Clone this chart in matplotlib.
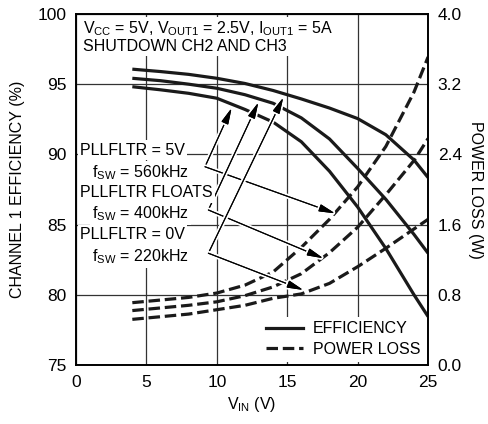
import matplotlib
matplotlib.use("Agg")
import matplotlib.pyplot as plt
import matplotlib.patheffects as pe
from matplotlib.lines import Line2D

# fonts: Arial-like sans to mimic the datasheet look
plt.rcParams["font.family"] = ["Liberation Sans", "DejaVu Sans"]
plt.rcParams["mathtext.fontset"] = "custom"
plt.rcParams["mathtext.rm"] = "Liberation Sans"
plt.rcParams["mathtext.default"] = "rm"

# input voltage (V)
vin = [4, 6, 8, 10, 12, 14, 16, 18, 20, 22, 24, 25]

# channel 1 efficiency (%)
eff_220k = [96.07, 95.9, 95.7, 95.42, 95.05, 94.55, 93.95, 93.3, 92.55, 91.4, 89.6, 88.35]
eff_400k = [95.42, 95.25, 95.0, 94.71, 94.25, 93.64, 92.6, 91.1, 89.0, 86.8, 84.3, 82.96]
eff_560k = [94.82, 94.6, 94.35, 94.0, 93.2, 92.3, 90.9, 88.8, 86.25, 83.3, 80.0, 78.45]

# power loss (W)
loss_560k = [0.71, 0.74, 0.77, 0.82, 0.91, 1.06, 1.34, 1.66, 2.03, 2.49, 3.11, 3.51]
loss_400k = [0.62, 0.65, 0.68, 0.72, 0.79, 0.89, 1.04, 1.28, 1.57, 1.94, 2.33, 2.58]
loss_220k = [0.52, 0.55, 0.58, 0.63, 0.68, 0.76, 0.81, 0.93, 1.12, 1.33, 1.55, 1.66]

x_ticks = [0, 5, 10, 15, 20, 25]
eff_ticks = [75, 80, 85, 90, 95, 100]
loss_ticks = [0.0, 0.8, 1.6, 2.4, 3.2, 4.0]

fs = 11.5
lw = 2.3
dash = (3.6, 1.5)

fig = plt.figure(figsize=(4.89, 4.24), dpi=100)
ax = fig.add_axes([0.1554, 0.1392, 0.72, 0.8278])
ax2 = ax.twinx()

ax.set_xlim(0, 25)
ax.set_ylim(75, 100)
ax2.set_ylim(0, 4.0)
ax.set_xticks(x_ticks)
ax.set_yticks(eff_ticks)
ax2.set_yticks(loss_ticks)
ax2.set_yticklabels(["%.1f" % t for t in loss_ticks])

ax.grid(True, color="#333333", lw=0.9, zorder=0)
ax.set_axisbelow(True)
for a in (ax, ax2):
    for s in a.spines.values():
        s.set_linewidth(1.2)
ax.tick_params(axis="both", length=0, labelsize=fs + 1, pad=7)
ax2.tick_params(axis="y", length=0, labelsize=fs + 1, pad=7)

for e in (eff_220k, eff_400k, eff_560k):
    ax.plot(vin, e, color="#1a1a1a", lw=lw, solid_capstyle="butt", zorder=2)
for p in (loss_560k, loss_400k, loss_220k):
    ax2.plot(vin, p, color="#1a1a1a", lw=lw, dashes=dash, zorder=2)

ax.set_xlabel("V$_{IN}$ (V)", fontsize=fs, labelpad=4)
ax.set_ylabel("CHANNEL 1 EFFICIENCY (%)", fontsize=fs, labelpad=9)
ax2.set_ylabel("POWER LOSS (W)", fontsize=fs, rotation=270, labelpad=15)

box = dict(facecolor="white", edgecolor="none", pad=1.5)
ax2.text(0.5, 98.98, "V$_{CC}$ = 5V, V$_{OUT1}$ = 2.5V, I$_{OUT1}$ = 5A",
         transform=ax.transData, fontsize=fs, va="center", ha="left", bbox=box, zorder=5)
ax2.text(0.5, 97.72, "SHUTDOWN CH2 AND CH3",
         transform=ax.transData, fontsize=fs, va="center", ha="left", bbox=box, zorder=5)

labels = ["PLLFLTR = 5V", "f$_{SW}$ = 560kHz", "PLLFLTR FLOATS",
          "f$_{SW}$ = 400kHz", "PLLFLTR = 0V", "f$_{SW}$ = 220kHz"]
label_y = [90.31, 88.7, 87.25, 85.79, 84.26, 82.71]
for i, (t, y) in enumerate(zip(labels, label_y)):
    x0 = 0.28 if i % 2 == 0 else 1.14
    ax2.text(x0, y, t, transform=ax.transData, fontsize=fs, va="center", ha="left",
             bbox=box, zorder=5)

# callout arrows (in efficiency-axis coordinates)
vertices = [(9.16, 89.12), (9.40, 86.04), (9.40, 82.96)]
tips_eff = [(11.05, 93.3), (12.95, 93.7), (14.72, 94.05)]
tips_loss = [(18.4, 85.8), (17.56, 82.6), (16.14, 80.34)]
aprops = dict(arrowstyle="-|>,head_length=0.75,head_width=0.17", color="black",
              lw=0.8, shrinkA=0, shrinkB=0, mutation_scale=13,
              path_effects=[pe.withStroke(linewidth=3.5, foreground="white"), pe.Normal()])
for v, t1, t2 in zip(vertices, tips_eff, tips_loss):
    for t in (t1, t2):
        ax2.annotate("", xy=t, xytext=v, xycoords=ax.transData, textcoords=ax.transData,
                     arrowprops=aprops, zorder=4)

handles = [Line2D([], [], color="#1a1a1a", lw=lw),
           Line2D([], [], color="#1a1a1a", lw=lw, dashes=dash)]
leg = ax2.legend(handles, ["EFFICIENCY", "POWER LOSS"], loc="lower right",
                 bbox_to_anchor=(1.0, 0.0), fontsize=fs, frameon=True, fancybox=False,
                 edgecolor="none", framealpha=1, handlelength=2.3, handletextpad=0.6,
                 borderpad=0.3, labelspacing=0.35, borderaxespad=0.2)
leg.set_zorder(6)

fig.savefig("out.png", dpi=100)
